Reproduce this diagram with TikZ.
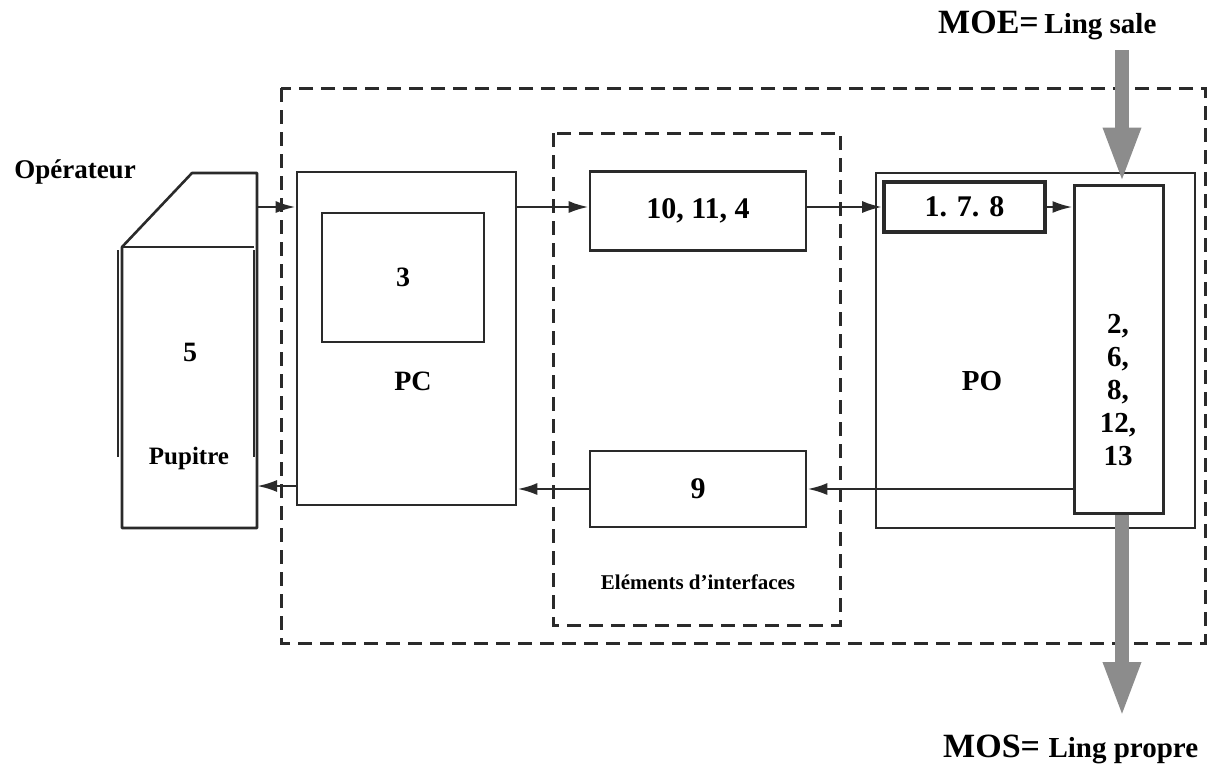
\documentclass[tikz,border=0pt]{standalone}
\usepackage{fontspec}
\setmainfont{Liberation Serif}
\usetikzlibrary{arrows.meta}
\definecolor{ln}{HTML}{2A2A2A}
\definecolor{gr}{HTML}{8C8C8C}
\tikzset{
  box/.style={draw=ln, line width=2.6pt, fill=white, inner sep=0pt},
  dbox/.style={draw=ln, line width=3pt, dash pattern=on 14pt off 8pt},
  conn/.style={draw=ln, line width=2.6pt, -{Latex[length=20pt,width=12pt]}},
  big/.style={draw=gr, line width=14pt, -{Triangle[length=56pt,width=34pt]}},
  lbl/.style={font=\bfseries, text=black, inner sep=0pt},
}
\begin{document}
\begin{tikzpicture}[x=1pt,y=-1pt]
\useasboundingbox (0,0) rectangle (1227,769);
% dashed boundaries
\draw[dbox] (281,88) rectangle (1205,643);
\draw[dbox] (553,133) rectangle (840,625);
% pupitre
\draw[ln, line width=2.6pt, fill=white, line join=round] (122,528) -- (122,247) -- (192,173) -- (257,173) -- (257,528) -- cycle;
\draw[ln, line width=2.6pt] (122,247) -- (254,247);
\draw[ln, line width=2.6pt] (254,250) -- (254,457);
\draw[ln, line width=2.2pt] (118,250) -- (118,457);
\coordinate (pr1) at (257,207);
\coordinate (pr2) at (257,486);
\node[lbl, font=\fontsize{27}{30}\selectfont\bfseries] (op) at (75,172) {Opérateur};
\node[lbl, font=\fontsize{28}{30}\selectfont\bfseries] (five) at (190,352) {5};
\node[lbl, font=\fontsize{25}{28}\selectfont\bfseries] (pup) at (189,458) {Pupitre};
% PC
\node[box, minimum width=219pt, minimum height=333pt] (pc) at (406.5,338.5) {};
\node[box, line width=2.2pt, minimum width=162pt, minimum height=129pt] (three) at (403,277.5) {};
\node[lbl, font=\fontsize{28}{30}\selectfont\bfseries] at (three) {3};
\node[lbl, font=\fontsize{28}{30}\selectfont\bfseries] (pclbl) at (413,381) {PC};
% interface boxes
\node[box, minimum width=216pt, minimum height=79pt, font=\fontsize{30}{32}\selectfont\bfseries] (b1) at (698,211) {10, 11, 4};
\node[box, minimum width=216pt, minimum height=76pt, font=\fontsize{30}{32}\selectfont\bfseries] (b9) at (698,489) {9};
\node[lbl, font=\fontsize{21}{24}\selectfont\bfseries] (ei) at (698,582) {Eléments d’interfaces};
% PO
\node[box, minimum width=319pt, minimum height=355pt] (po) at (1035.5,350.5) {};
\node[lbl, font=\fontsize{29}{32}\selectfont\bfseries] (polbl) at (982,381) {PO};
\node[box, line width=3.6pt, minimum width=161pt, minimum height=50pt, font=\fontsize{30}{32}\selectfont\bfseries] (b178) at (964.5,207) {1. 7. 8};
\node[box, line width=3pt, minimum width=89pt, minimum height=328pt] (tall) at (1118.5,349) {};
\node[lbl, align=center, font=\fontsize{29}{33}\selectfont\bfseries] (talltxt) at (1118,390) {2,\\6,\\8,\\12,\\13};
% connectors
\draw[conn] (pr1) -- (pr1 -| pc.west);
\draw[conn] (pc.west |- pr2) -- (pr2);
\draw[conn] (pc.east |- b178.west) -- (b1.west |- b178.west);
\draw[conn] (b1.east |- b178.west) -- (b178.west);
\draw[conn] (b178.east) -- (b178.east -| tall.west);
\draw[conn] (tall.west |- b9.east) -- (b9.east);
\draw[conn] (b9.west) -- (b9.west -| pc.east);
% material flows
\coordinate (moe) at (1122,50);
\coordinate (mos) at (1122,718);
\draw[big] (moe) -- (moe |- tall.north);
\draw[big] (tall.south -| mos) -- (mos);
\node[anchor=base west, inner sep=0pt] (moelbl) at (938,33) {\fontsize{34}{36}\selectfont\bfseries MOE=\,\fontsize{29}{32}\selectfont Ling sale};
\node[anchor=base west, inner sep=0pt] (moslbl) at (943,757) {\fontsize{34}{36}\selectfont\bfseries MOS=\ \fontsize{29}{32}\selectfont Ling propre};
\end{tikzpicture}
\end{document}
